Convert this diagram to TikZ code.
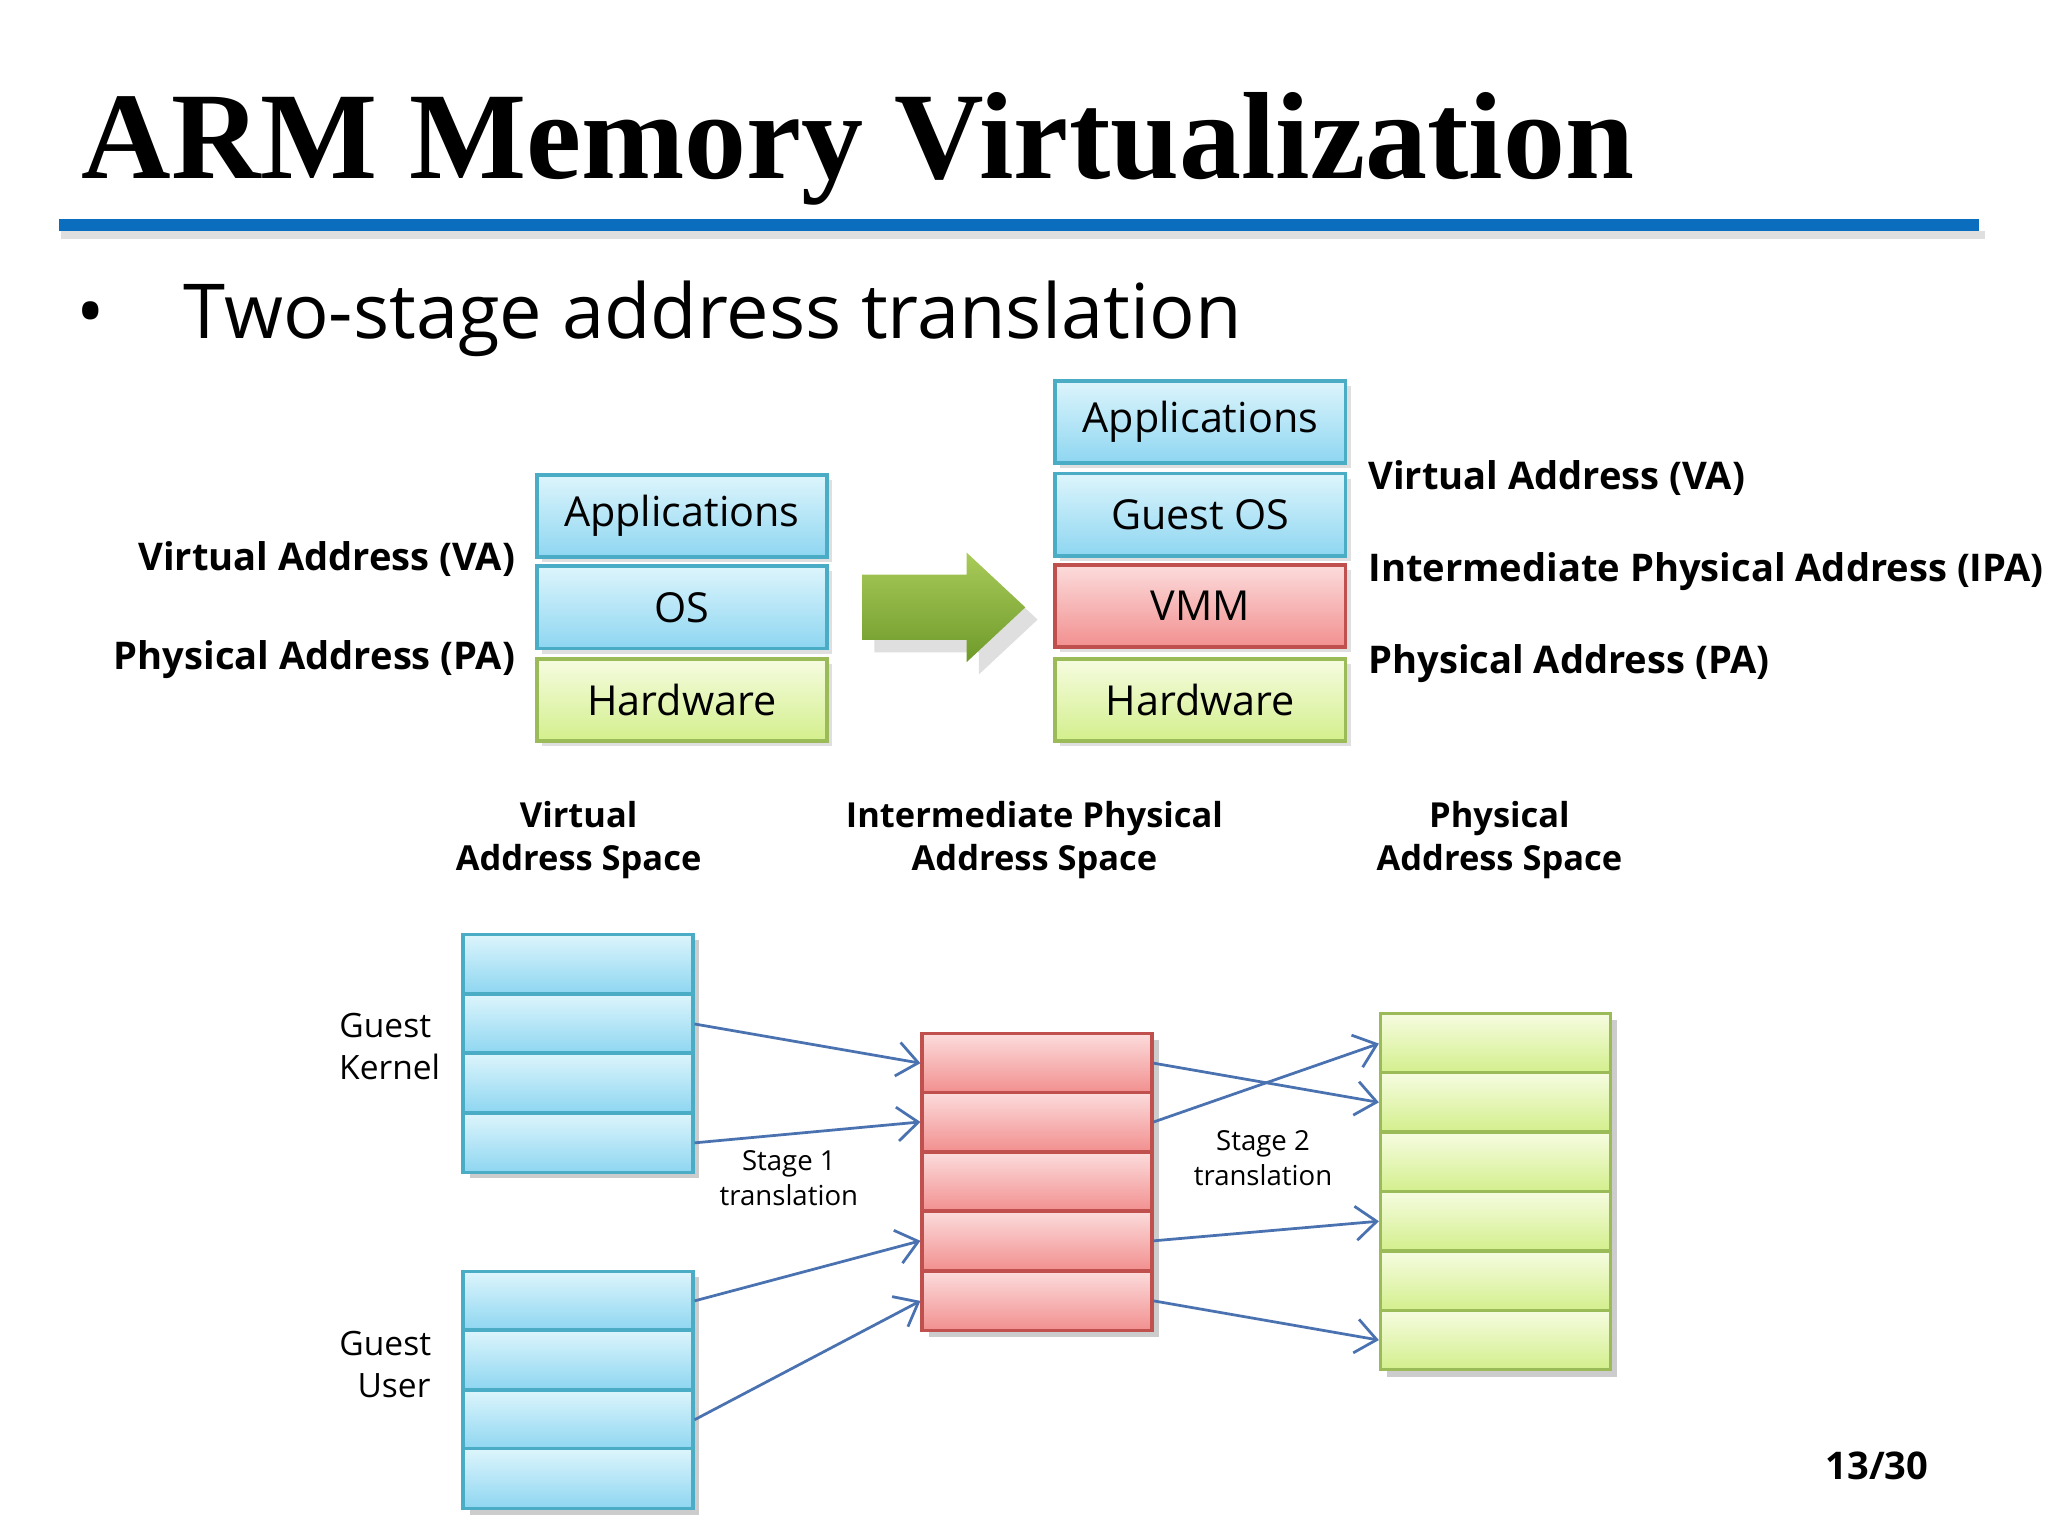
\documentclass[tikz,border=0pt]{standalone}
\usepackage{fontspec}
\setmainfont{Open Sans}
\newfontfamily\titlefont{Liberation Serif}
\usetikzlibrary{shadows,arrows.meta}
\definecolor{bluetop}{HTML}{DDF5FC}
\definecolor{bluebot}{HTML}{8ED6F1}
\definecolor{blueedge}{HTML}{4BACC6}
\definecolor{redtop}{HTML}{FCDCDC}
\definecolor{redbot}{HTML}{F28F8F}
\definecolor{rededge}{HTML}{C0504D}
\definecolor{greentop}{HTML}{F6FCE0}
\definecolor{greenbot}{HTML}{D3EF8C}
\definecolor{greenedge}{HTML}{9BBB59}
\definecolor{arr}{HTML}{4A72B0}
\definecolor{rule}{HTML}{0B6DBE}
\definecolor{gtop}{HTML}{A9CB5A}
\definecolor{gbot}{HTML}{6E9A2A}
\tikzset{
 box/.style={draw, line width=0.8pt, top color=#1top, bottom color=#1bot, draw=#1edge,
   drop shadow={opacity=0.25, shadow xshift=0.04cm, shadow yshift=-0.04cm},
   minimum width=2.22cm, minimum height=0.63cm, inner sep=0pt, font=\fontsize{9}{11}\selectfont},
 cell/.style={draw, line width=0.7pt, top color=#1top, bottom color=#1bot, draw=#1edge,
   minimum width=1.76cm, minimum height=0.455cm, inner sep=0pt},
 lab/.style={font=\bfseries\fontsize{8.3}{10}\selectfont, inner sep=0pt},
 head/.style={font=\bfseries\fontsize{7.5}{9.4}\selectfont, align=center, inner sep=0pt},
 small/.style={font=\fontsize{6}{7.6}\selectfont, align=center, inner sep=0pt},
 side/.style={font=\fontsize{7.3}{9.1}\selectfont, align=center, inner sep=0pt},
 link/.style={arr, line width=0.6pt, -{Straight Barb[length=1.6mm,width=2.6mm]}},
}
\begin{document}
\begin{tikzpicture}[x=0.01cm,y=-0.01cm]
\useasboundingbox[fill=white] (0,0) rectangle (1568,1176);
\node[anchor=base west, inner sep=0pt, font=\titlefont\bfseries\fontsize{27}{30}\selectfont] (title) at (62,137) {ARM Memory Virtualization};
\fill[gray!25] (47,177) rectangle (1520,183);
\fill[rule] (45,168) rectangle (1515,177);
\node[anchor=base west, inner sep=0pt, font=\fontsize{16.5}{20}\selectfont] (bul) at (58,259) {•};
\node[anchor=base west, inner sep=0pt, font=\fontsize{16.5}{20}\selectfont] (sub) at (140,259) {Two-stage address translation};
\node[box=blue] (a1) at (522,395) {Applications};
\node[box=blue] (a2) at (522,465) {OS};
\node[box=green] (a3) at (522,536) {Hardware};
\node[lab, anchor=east] (va1) at (395,428) {Virtual Address (VA)};
\node[lab, anchor=east] (pa1) at (395,505) {Physical Address (PA)};
\shade[top color=gtop, bottom color=gbot, drop shadow={opacity=0.25}]
 (660,440) -- (740,440) -- (740,423) -- (785,465) -- (740,507) -- (740,490) -- (660,490) -- cycle;
\node[box=blue] (b1) at (919,323) {Applications};
\node[box=blue] (b2) at (919,394) {Guest OS};
\node[box=red] (b3) at (919,464) {VMM};
\node[box=green] (b4) at (919,536) {Hardware};
\node[lab, anchor=west] (va2) at (1047,366) {Virtual Address (VA)};
\node[lab, anchor=west] (ipa2) at (1047,438) {Intermediate Physical Address (IPA)};
\node[lab, anchor=west] (pa2) at (1047,508) {Physical Address (PA)};
\node[head] (h1) at (443,643) {Virtual\\Address Space};
\node[head] (h2) at (792,643) {Intermediate Physical\\Address Space};
\node[head] (h3) at (1148,643) {Physical\\Address Space};
\fill[black!20] (360,720) rectangle (535,902);
\fill[black!20] (360,978) rectangle (535,1160);
\fill[black!20] (711,796) rectangle (887,1024);
\fill[black!20] (1062,781) rectangle (1238,1054);
\foreach \y [count=\i] in {738,784,829,875} \node[cell=blue] (k\i) at (442.5,\y) {};
\foreach \y [count=\i] in {996,1041,1087,1132} \node[cell=blue] (u\i) at (442.5,\y) {};
\foreach \y [count=\i] in {814,859,905,950,996} \node[cell=red] (r\i) at (794,\y) {};
\foreach \y [count=\i] in {799,844,890,935,981,1026} \node[cell=green] (g\i) at (1145,\y) {};
\node[side] (gk) at (295,801) {Guest\\\ Kernel};
\node[side] (gu) at (295,1045) {Guest\\\ \ User};
\node[small] (s1) at (604,902) {Stage 1\\translation};
\node[small] (s2) at (967,887) {Stage 2\\translation};
\draw[link] (k2.east) -- (r1.west);
\draw[link] (k4.east) -- (r2.west);
\draw[link] (u1.east) -- (r4.west);
\draw[link] (u3.east) -- (r5.west);
\draw[link] (r1.east) -- (g2.west);
\draw[link] (r2.east) -- (g1.west);
\draw[link] (r4.east) -- (g4.west);
\draw[link] (r5.east) -- (g6.west);
\node[lab] (pg) at (1437,1122) {13/30};
\end{tikzpicture}
\end{document}
